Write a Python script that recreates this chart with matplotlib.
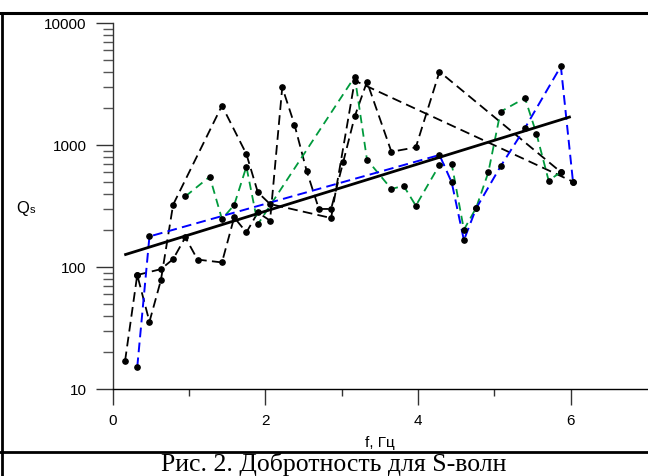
import matplotlib
matplotlib.use("Agg")
import matplotlib.pyplot as plt
from matplotlib.lines import Line2D
from matplotlib.ticker import FixedLocator, NullFormatter, LogLocator
import numpy as np

plt.rcParams['font.family'] = ['Liberation Sans', 'DejaVu Sans']
plt.rcParams['lines.scale_dashes'] = False

# ---- data ----
black1_f = [0.16, 0.32, 0.48, 0.63, 0.79, 1.43, 1.75, 1.90, 2.06, 2.86, 3.17, 6.03]
black1_q = [16.9, 86, 35.6, 78, 324, 2100, 843, 409, 328, 252, 3370, 500]

black2_f = [0.32, 0.63, 0.79, 0.95, 1.11, 1.43, 1.59, 1.75, 1.90, 2.06, 2.22, 2.38,
            2.54, 2.70, 2.86, 3.02, 3.17, 3.33, 3.65, 3.97, 4.28, 5.87]
black2_q = [86, 96, 116, 175, 115, 109, 255, 192, 280, 240, 2970, 1470,
            612, 299, 299, 730, 1717, 3300, 880, 957, 3990, 600]

green_f = [0.95, 1.27, 1.43, 1.59, 1.75, 1.90, 3.17, 3.33, 3.65, 3.81, 3.97, 4.28,
           4.44, 4.60, 4.76, 4.92, 5.08, 5.40, 5.55, 5.71, 5.87]
green_q = [379, 550, 247, 322, 664, 224, 3630, 758, 436, 463, 318, 686,
           699, 202, 305, 597, 1875, 2425, 1240, 511, 600]

blue_f = [0.32, 0.48, 4.28, 4.44, 4.60, 4.76, 5.08, 5.40, 5.87, 6.03]
blue_q = [15.1, 178, 828, 494, 166, 302, 668, 1377, 4415, 494]

fit_f_range = [0.15, 6.0]
fit_a = 2.070   # log10 Q intercept
fit_b = 0.1937  # log10 Q slope per Hz

x_major = [0, 2, 4, 6]
x_minor = [1, 3, 5]
y_major = [10, 100, 1000, 10000]
y_labels = ['10', '100', '1000', '10000']

# ---- figure ----
fig = plt.figure(figsize=(6.48, 4.77), dpi=100)
ax = fig.add_axes([0.1741, 0.1824, 0.8245, 0.7673])

dash = (0, (7, 3.8))
green_col = '#009a3c'
blue_col = '#0000ff'

ax.plot(black1_f, black1_q, color='black', lw=1.3, linestyle=dash, zorder=2)
ax.plot(black2_f, black2_q, color='black', lw=1.3, linestyle=dash, zorder=2)
ax.plot(green_f, green_q, color=green_col, lw=1.3, linestyle=(0, (6, 3.8)), zorder=2)
ax.plot(blue_f, blue_q, color=blue_col, lw=1.4, linestyle=dash, zorder=2)

fit_f = np.linspace(fit_f_range[0], fit_f_range[1], 50)
fit_q = 10 ** (fit_a + fit_b * fit_f)
ax.plot(fit_f, fit_q, color='black', lw=2.0, solid_capstyle='butt', zorder=3)

for fx, qy in [(black1_f, black1_q), (black2_f, black2_q), (green_f, green_q), (blue_f, blue_q)]:
    ax.plot(fx, qy, linestyle='none', marker='o', ms=3.8, color='black', zorder=4)

ax.set_yscale('log')
ax.set_xlim(0, 7)
ax.set_ylim(10, 10000)

for s in ['top', 'right']:
    ax.spines[s].set_visible(False)
ax.spines['left'].set_color('#333333')
ax.spines['bottom'].set_color('black')
ax.spines['left'].set_linewidth(1.0)
ax.spines['bottom'].set_linewidth(1.0)

ax.xaxis.set_major_locator(FixedLocator(x_major))
ax.xaxis.set_minor_locator(FixedLocator(x_minor))
ax.set_xticklabels([str(v) for v in x_major])
ax.yaxis.set_major_locator(FixedLocator(y_major))
ax.set_yticklabels(y_labels)
ax.yaxis.set_minor_locator(LogLocator(base=10, subs=np.arange(2, 10)))
ax.yaxis.set_minor_formatter(NullFormatter())

ax.tick_params(axis='x', which='major', direction='out', length=11.5, width=1.0,
               color='#333333', labelsize=11, pad=6)
ax.tick_params(axis='x', which='minor', direction='out', length=5, width=1.0, color='#333333')
ax.tick_params(axis='y', which='major', direction='out', length=12, width=1.0,
               color='#333333', labelsize=11, pad=7)
ax.tick_params(axis='y', which='minor', direction='out', length=7, width=1.0, color='#555555')

ax.set_xlabel('f, Гц', fontsize=11, labelpad=0)
ax.xaxis.set_label_coords(0.5, -0.125)
fig.text(0.025, 0.553, 'Q', fontsize=12, ha='left', va='baseline')
fig.text(0.046, 0.553, 's', fontsize=8, ha='left', va='baseline')

# frame lines
fig.add_artist(Line2D([0, 1], [0.9706, 0.9706], color='black', lw=2.2))
fig.add_artist(Line2D([0.0025, 0.0025], [0, 0.9706], color='black', lw=2.0))
fig.add_artist(Line2D([0, 1], [0.0506, 0.0506], color='black', lw=2.0))

fig.text(0.515, 0.013, 'Рис. 2. Добротность для S-волн', fontsize=18.5,
         family=['Liberation Serif', 'DejaVu Serif'], ha='center', va='baseline')

fig.savefig('out.png', dpi=100)
